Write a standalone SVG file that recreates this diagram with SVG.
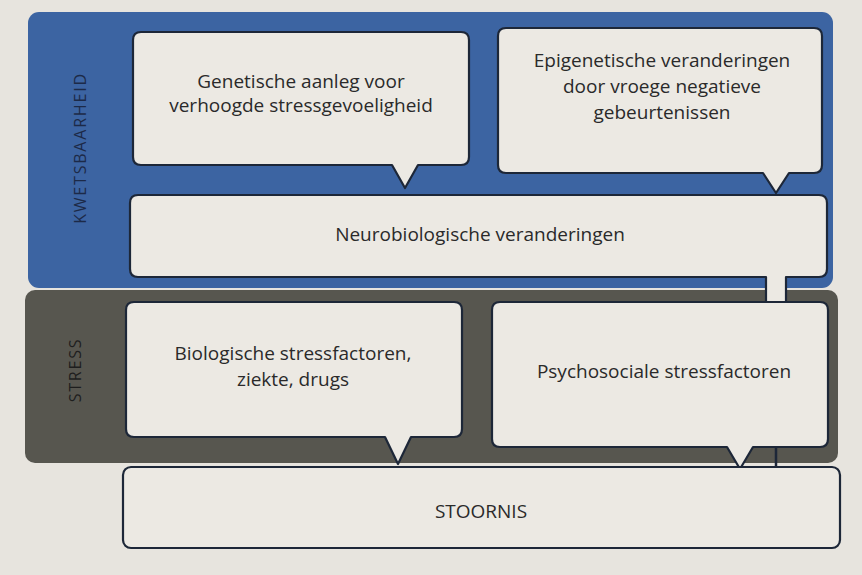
<svg xmlns="http://www.w3.org/2000/svg" width="862" height="575" viewBox="0 0 862 575">
<style>
.box{fill:#ece9e3;stroke:#1d2738;stroke-width:2.2;stroke-linejoin:round}
.t{font-family:"Open Sans","Noto Sans",sans-serif;font-size:19px;font-weight:500;fill:#2a2a2a;text-anchor:middle}
.lab{font-family:"Open Sans","Noto Sans",sans-serif;font-size:16px;font-weight:500;text-anchor:middle;letter-spacing:1.8px}
</style>
<rect x="0" y="0" width="862" height="575" fill="#e7e4de"/>
<g id="panel-kwetsbaarheid">
<rect x="28" y="12" width="805" height="276" rx="11" fill="#3c64a2"/>
<text class="lab" transform="translate(86,148) rotate(-90)" fill="#1c2a48">KWETSBAARHEID</text>
</g>
<g id="panel-stress">
<rect x="25" y="290" width="813" height="173" rx="10" fill="#57564f"/>
<text class="lab" transform="translate(81,370) rotate(-90)" fill="#1e1e1e">STRESS</text>
</g>
<g id="connectors">
<line x1="776" y1="446" x2="776" y2="467" stroke="#1d2738" stroke-width="2.5"/>
</g>
<g id="node-genetisch">
<path class="box" d="M141,32 H461 Q469,32 469,40 V157 Q469,165 461,165 H418 L405,188 L392,165 H141 Q133,165 133,157 V40 Q133,32 141,32 Z"/>
<text class="t" x="301" y="88">Genetische aanleg voor</text>
<text class="t" x="301" y="112">verhoogde stressgevoeligheid</text>
</g>
<g id="node-epigenetisch">
<path class="box" d="M506,28 H814 Q822,28 822,36 V165 Q822,173 814,173 H789 L776,193 L763,173 H506 Q498,173 498,165 V36 Q498,28 506,28 Z"/>
<text class="t" x="662" y="67">Epigenetische veranderingen</text>
<text class="t" x="662" y="93">door vroege negatieve</text>
<text class="t" x="662" y="119">gebeurtenissen</text>
</g>
<g id="node-neurobiologisch">
<path class="box" d="M138,195 H819 Q827,195 827,203 V269 Q827,277 819,277 H786 V312 H766 V277 H138 Q130,277 130,269 V203 Q130,195 138,195 Z"/>
<text class="t" x="480" y="241">Neurobiologische veranderingen</text>
</g>
<g id="node-biologisch">
<path class="box" d="M134,302 H454 Q462,302 462,310 V429 Q462,437 454,437 H411 L398,464 L385,437 H134 Q126,437 126,429 V310 Q126,302 134,302 Z"/>
<text class="t" x="293" y="360">Biologische stressfactoren,</text>
<text class="t" x="293" y="386">ziekte, drugs</text>
</g>
<g id="node-psychosociaal">
<path class="box" d="M500,302 H820 Q828,302 828,310 V439 Q828,447 820,447 H753 L740,469 L727,447 H500 Q492,447 492,439 V310 Q492,302 500,302 Z"/>
<text class="t" x="664" y="378">Psychosociale stressfactoren</text>
</g>
<g id="node-stoornis">
<rect class="box" x="123" y="467" width="717" height="81" rx="8" stroke="#3a3a3a"/>
<text class="t" x="481" y="518" font-size="20">STOORNIS</text>
</g>
</svg>
